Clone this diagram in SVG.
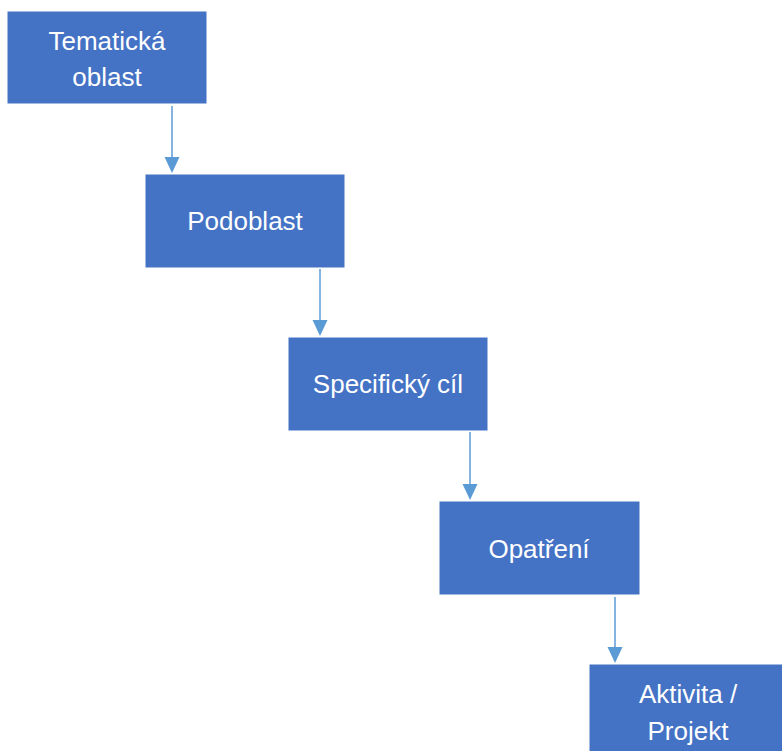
<svg xmlns="http://www.w3.org/2000/svg" width="782" height="751" viewBox="0 0 782 751">
<defs>
<style>
.box{fill:#4472C4;stroke:#4472C4;stroke-width:1}
.lbl{font-family:"Liberation Sans",Arial,sans-serif;font-size:26px;fill:#FFFFFF;text-anchor:middle}
.con{stroke:#5B9BD5;stroke-width:1.5;fill:none}
.head{fill:#5B9BD5}
</style>
</defs>
<rect width="782" height="751" fill="#FFFFFF"/>
<g id="connectors">
<line class="con" x1="172" y1="106" x2="172" y2="160"/>
<polygon class="head" points="164.5,157 179.5,157 172,173"/>
<line class="con" x1="320" y1="269" x2="320" y2="323"/>
<polygon class="head" points="312.5,320 327.5,320 320,336"/>
<line class="con" x1="470" y1="432" x2="470" y2="487"/>
<polygon class="head" points="462.5,484 477.5,484 470,500"/>
<line class="con" x1="615" y1="597" x2="615" y2="650"/>
<polygon class="head" points="607.5,647 622.5,647 615,663"/>
</g>
<g id="node1">
<rect class="box" x="8" y="12" width="198" height="91"/>
<text class="lbl" x="107" y="50">Tematická</text>
<text class="lbl" x="107" y="86">oblast</text>
</g>
<g id="node2">
<rect class="box" x="146" y="175" width="198" height="92"/>
<text class="lbl" x="245" y="230">Podoblast</text>
</g>
<g id="node3">
<rect class="box" x="289" y="338" width="198" height="92"/>
<text class="lbl" x="388" y="393">Specifický cíl</text>
</g>
<g id="node4">
<rect class="box" x="440" y="502" width="199" height="92"/>
<text class="lbl" x="539" y="558">Opatření</text>
</g>
<g id="node5">
<rect class="box" x="590" y="665" width="198" height="92"/>
<text class="lbl" x="688" y="703">Aktivita /</text>
<text class="lbl" x="688" y="740">Projekt</text>
</g>
</svg>
